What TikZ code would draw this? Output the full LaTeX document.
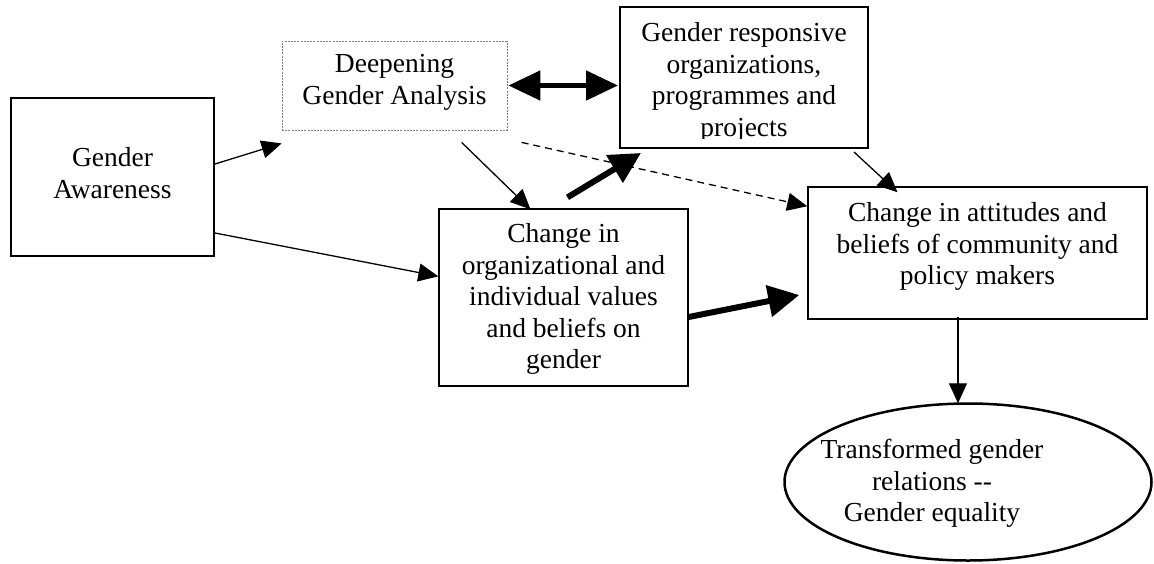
\documentclass[tikz,border=0pt]{standalone}
\usepackage{fontspec}
\setmainfont{Liberation Serif}
\usetikzlibrary{arrows.meta,calc,shapes.geometric}

\tikzset{
  box/.style={draw, rectangle, inner sep=0pt},
  txt/.style={align=center, inner sep=0pt, font=\fontsize{27.5}{31.5}\selectfont},
  thin arrow/.style={line width=1.3pt, -{Triangle[length=20pt,width=18pt]}},
  thick arrow/.style={line width=6pt, -{Triangle[length=31pt,width=31pt]}},
  both arrow/.style={line width=5pt, {Triangle[length=32pt,width=29pt]}-{Triangle[length=32pt,width=29pt]}},
  dash arrow/.style={thin arrow, dash pattern=on 7pt off 5pt}
}

\begin{document}
\begin{tikzpicture}[x=1pt,y=-1pt]
\useasboundingbox (0,0) rectangle (1154,563);

% boxes
\node[box, line width=2pt, minimum width=203pt, minimum height=158pt] (ga) at (112.5,177) {};
\node[txt] (gat) at (112.5,173) {Gender\\Awareness};

\node[box, draw=gray, line width=0.8pt, dash pattern=on 2pt off 1.2pt, minimum width=225pt, minimum height=89pt] (dga) at (394.5,85.5) {};
\node[txt] (dgat) at (394.5,82.5) {Deepening\\Gender Analysis};

\node[box, line width=2pt, minimum width=248pt, minimum height=141pt] (gr) at (744,77.5) {};
\begin{scope}
  \clip (620,7) rectangle (868,138);
  \node[txt] (grt) at (744,82.5) {Gender responsive\\organizations,\\programmes and\\projects};
\end{scope}

\node[box, line width=1.3pt, minimum width=249pt, minimum height=177pt] (co) at (563.5,297.5) {};
\node[txt] (cot) at (563.5,299) {Change in\\organizational and\\individual values\\and beliefs on\\gender};

\node[box, line width=1.5pt, minimum width=339pt, minimum height=132pt] (ca) at (977.5,253) {};
\node[txt] (cat) at (977.5,246.5) {Change in attitudes and\\beliefs of community and\\policy makers};

\node[draw, ellipse, line width=2.5pt, inner sep=0pt, minimum width=367pt, minimum height=157pt] (te) at (968,482) {};
\node[txt] (tet) at (932,483.5) {Transformed gender\\relations -{}-\\Gender equality};

% connectors
\draw[thin arrow] ($(ga.north east)+(0,67)$) -- ($(dga.south west)+(0,13)$);
\draw[thin arrow] ($(ga.south east)+(0,-24)$) -- ($(co.north west)+(0,68)$);
\draw[both arrow] ($(dga.east)+(1,0)$) -- ($(dga.east -| gr.west)+(-1,0)$);
\draw[thin arrow] ($(dga.south west)+(180,12)$) -- ($(co.north)+(-33,1)$);
\draw[dash arrow] ($(dga.south west)+(240,12)$) -- ($(ca.north west)+(0,20)$);
\draw[thick arrow] ($(co.north)+(4,-11)$) -- ($(gr.south west)+(22,4)$);
\draw[thick arrow] ($(co.east)+(0,19.5)$) -- ($(ca.west)+(-8,42)$);
\draw[thin arrow] ($(gr.south east)+(-15,3)$) -- ($(ca.north)+(-80,6)$);
\draw[thin arrow] ($(ca.south)+(-19.5,-3)$) -- ($(te.north)+(-10,1)$);
\end{tikzpicture}
\end{document}
